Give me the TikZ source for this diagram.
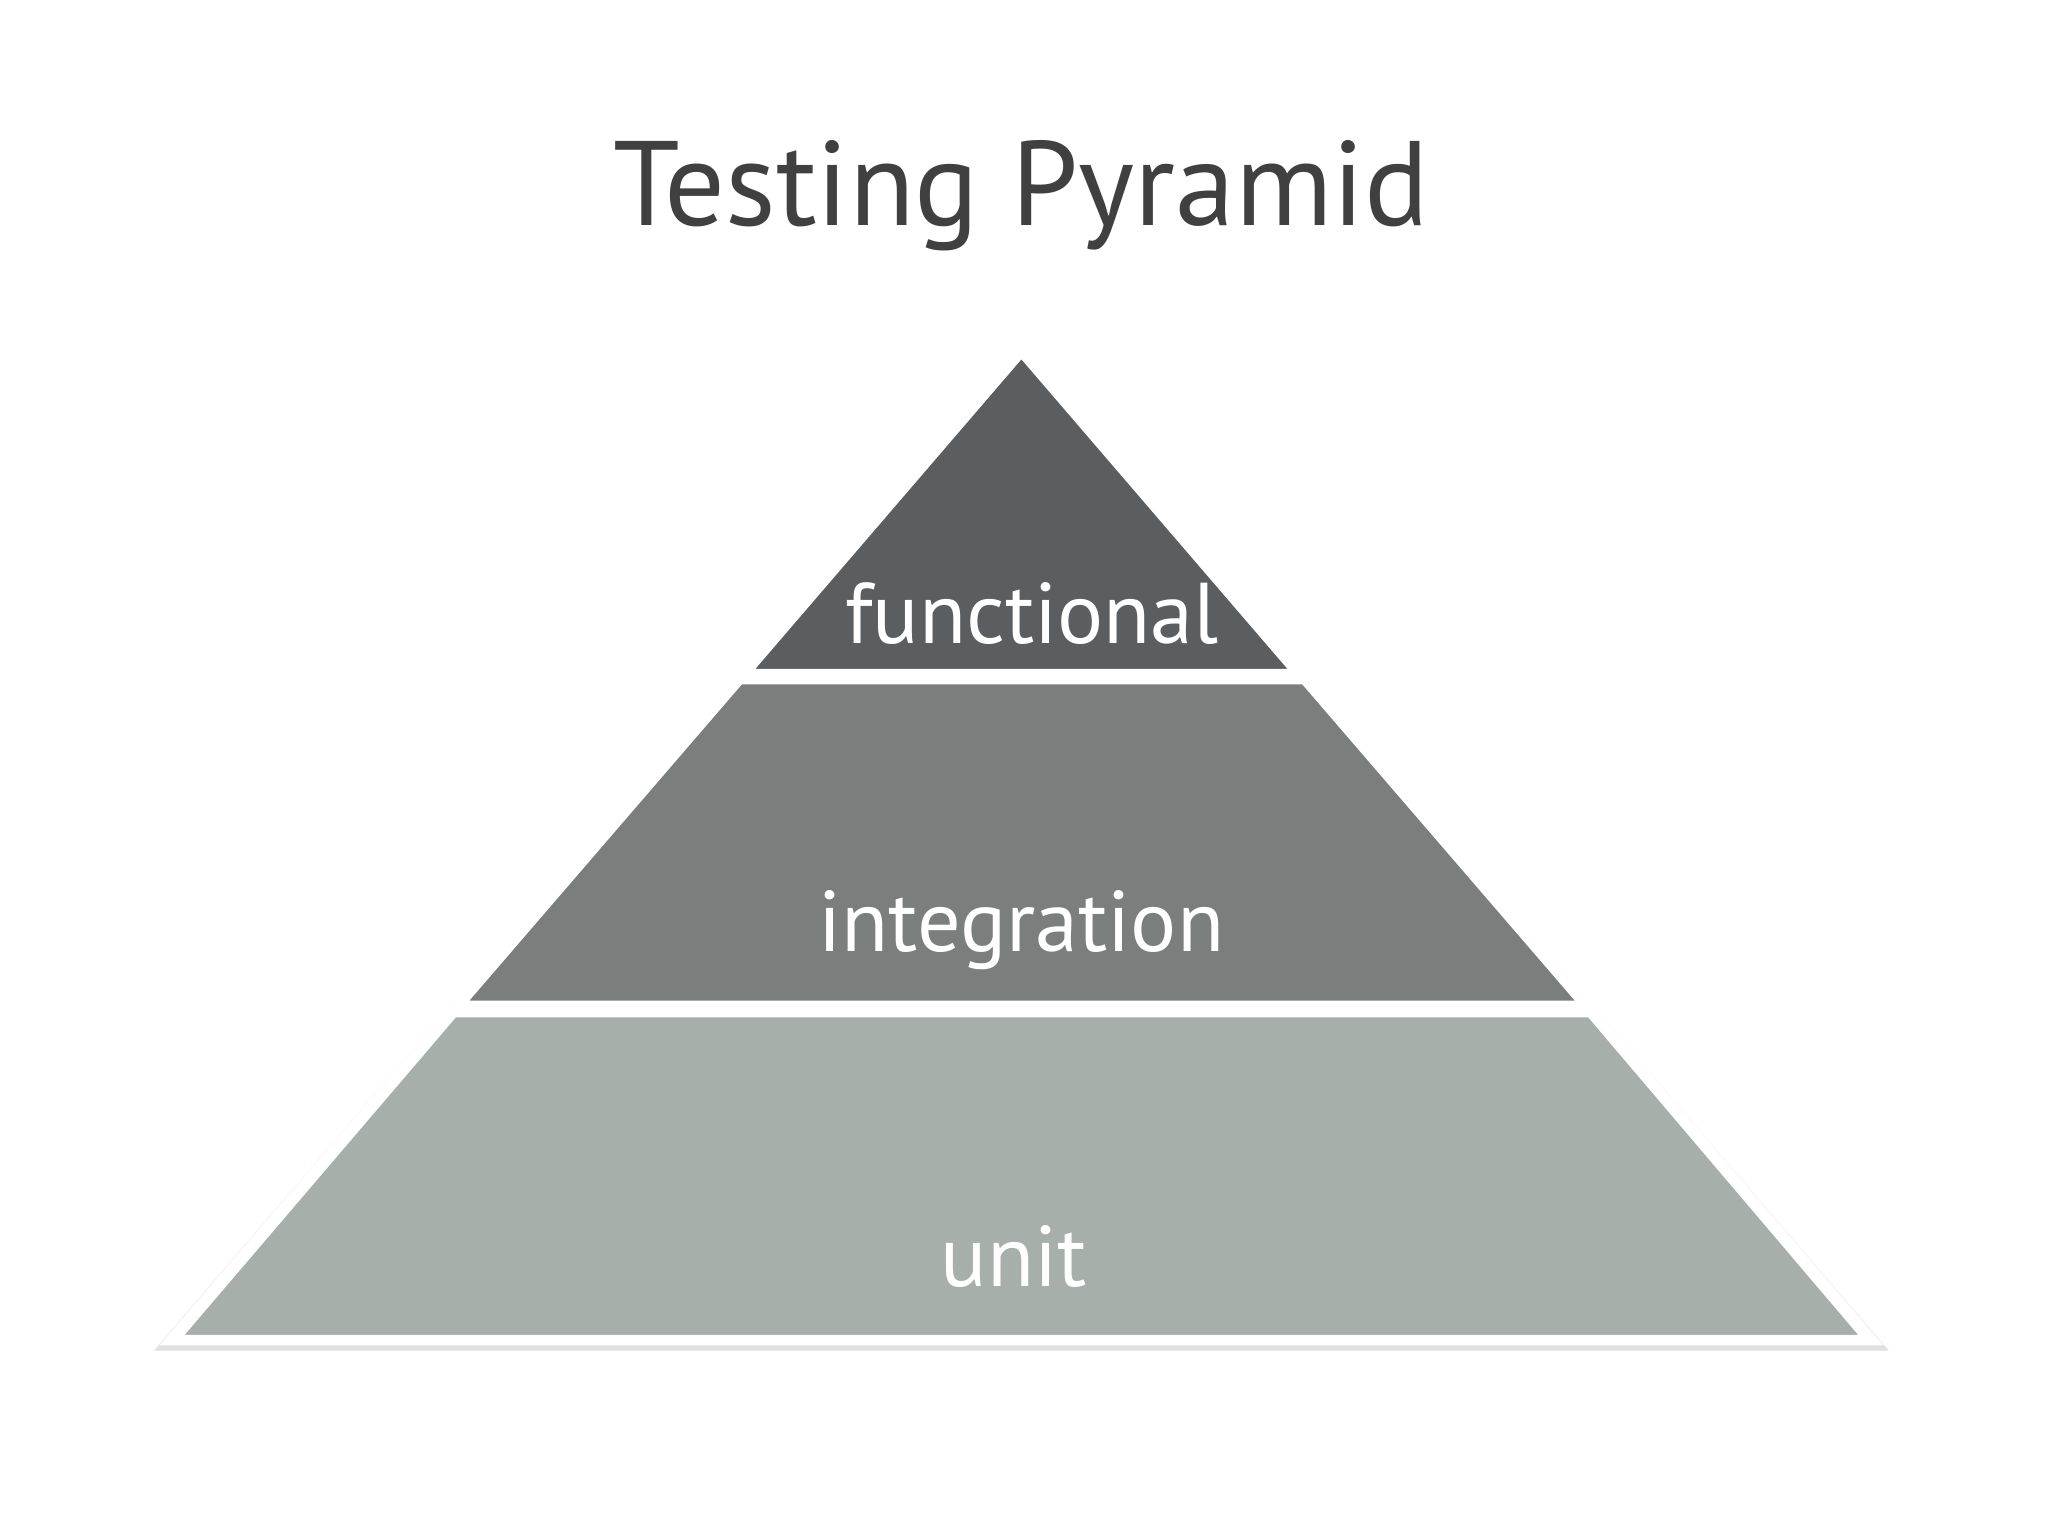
\documentclass[tikz,border=0pt]{standalone}
\usepackage{fontspec}
\setmainfont{PT Sans}
\begin{document}
\begin{tikzpicture}[x=0.5pt,y=-0.5pt,
  band/.style={draw=white,line width=2pt,line join=round},
  lbl/.style={text=white,font=\fontsize{33}{36}\selectfont}]
\useasboundingbox (0,0) rectangle (1568,1175);
\fill[white] (0,0) rectangle (1568,1175);
\node[text=black!75,font=\fontsize{46}{50}\selectfont] (title) at (782,150) {Testing Pyramid};
% outer white outline with soft shadow
\fill[black!12] (782,262) -- (1446,1034) -- (118,1034) -- cycle;
\fill[white] (782,260) -- (1442,1030) -- (122,1030) -- cycle;
\fill[band,fill=black!65!gray!100!white, fill={rgb,255:red,90;green,94;blue,97}] (782,272) -- (990,514) -- (574,514) -- cycle;
\fill[band,fill={rgb,255:red,122;green,127;blue,125}] (567,522) -- (998,522) -- (1210,768) -- (355,768) -- cycle;
\fill[band,fill={rgb,255:red,166;green,175;blue,170}] (348,777) -- (1217,777) -- (1427,1024) -- (137,1024) -- cycle;
\node[lbl] (functional) at (790,470) {functional};
\node[lbl] (integration) at (782,712) {integration};
\node[lbl] (unit) at (776,962) {unit};
\end{tikzpicture}
\end{document}
